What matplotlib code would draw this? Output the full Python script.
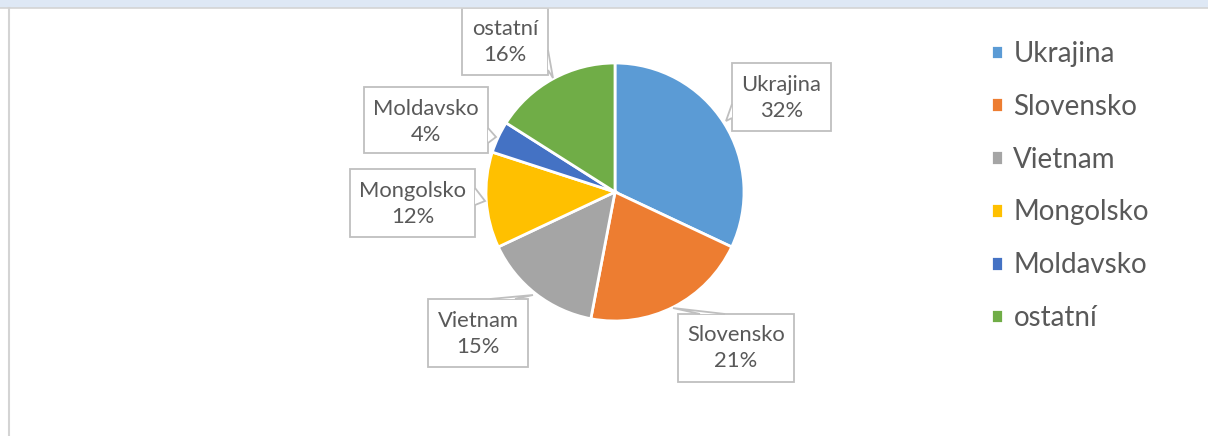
import matplotlib.pyplot as plt
from matplotlib.patches import Rectangle, Polygon

# data
countries = ['Ukrajina', 'Slovensko', 'Vietnam', 'Mongolsko', 'Moldavsko', 'ostatní']
shares = [32, 21, 15, 12, 4, 16]
colors = ['#5B9BD5', '#ED7D31', '#A5A5A5', '#FFC000', '#4472C4', '#70AD47']

# label boxes (pixel coords, top-left origin): x0, y0, x1, y1, text centre y
boxes = {
    'Ukrajina':  (732, 63, 831, 131, 98),
    'Slovensko': (678, 314, 794, 382, 348),
    'Vietnam':   (428, 299, 528, 367, 334),
    'Mongolsko': (350, 169, 475, 237, 204),
    'Moldavsko': (364, 87, 488, 153, 122),
    'ostatní':   (462, 8, 548, 75, 42),
}
# callout pointers: base point, tip, base point
pointers = {
    'Ukrajina':  [(732, 104), (726, 121), (732, 118)],
    'Slovensko': [(725, 314), (673, 308), (700, 314)],
    'Vietnam':   [(490, 299), (533, 295), (515, 299)],
    'Mongolsko': [(475, 188), (485, 201), (475, 205)],
    'Moldavsko': [(488, 128), (496, 137), (488, 143)],
    'ostatní':   [(548, 50), (553, 78), (548, 70)],
}

W, H = 1208, 436
plt.rcParams['font.family'] = ['Lato', 'DejaVu Sans']
txt_color = '#595959'
edge_gray = '#BFBFBF'

def Y(y):
    return H - y

fig = plt.figure(figsize=(W / 100, H / 100), dpi=100)
ax = fig.add_axes([0, 0, 1, 1])
ax.set_xlim(0, W)
ax.set_ylim(0, H)
ax.set_aspect('equal')
ax.axis('off')

wedges, _ = ax.pie(shares, colors=colors, startangle=90, counterclock=False,
                   center=(615, Y(192)), radius=129,
                   wedgeprops=dict(edgecolor='white', linewidth=2))
ax.set_xlim(0, W)
ax.set_ylim(0, H)

for name, val in zip(countries, shares):
    x0, y0, x1, y1, ty = boxes[name]
    ax.add_patch(Rectangle((x0, Y(y1)), x1 - x0, y1 - y0, facecolor='white',
                           edgecolor=edge_gray, linewidth=1.3, zorder=5))
    pts = [(px, Y(py)) for px, py in pointers[name]]
    ax.add_patch(Polygon(pts, closed=False, facecolor='white',
                         edgecolor=edge_gray, linewidth=1.3, zorder=6))
    ax.text((x0 + x1) / 2, Y(ty), f'{name}\n{val}%', ha='center', va='center',
            fontsize=15.8, color=txt_color, linespacing=1.4, zorder=7)

leg = ax.legend(wedges, countries, loc='upper left',
                bbox_to_anchor=(977 / W, Y(27) / H), frameon=False,
                fontsize=20, handlelength=0.45, handleheight=0.45,
                handletextpad=0.36, labelspacing=0.965, borderpad=0)
for t in leg.get_texts():
    t.set_color(txt_color)

# window frame
ax.add_patch(Rectangle((0, Y(8)), W, 8, facecolor='#DEE8F5', edgecolor='none', zorder=10))
ax.plot([0, W], [Y(8.5), Y(8.5)], color='#D4D4D4', linewidth=1.2, zorder=11)
ax.plot([8.5, 8.5], [0, Y(8.5)], color='#D4D4D4', linewidth=1.5, zorder=11)

fig.savefig('out.png', dpi=100)
